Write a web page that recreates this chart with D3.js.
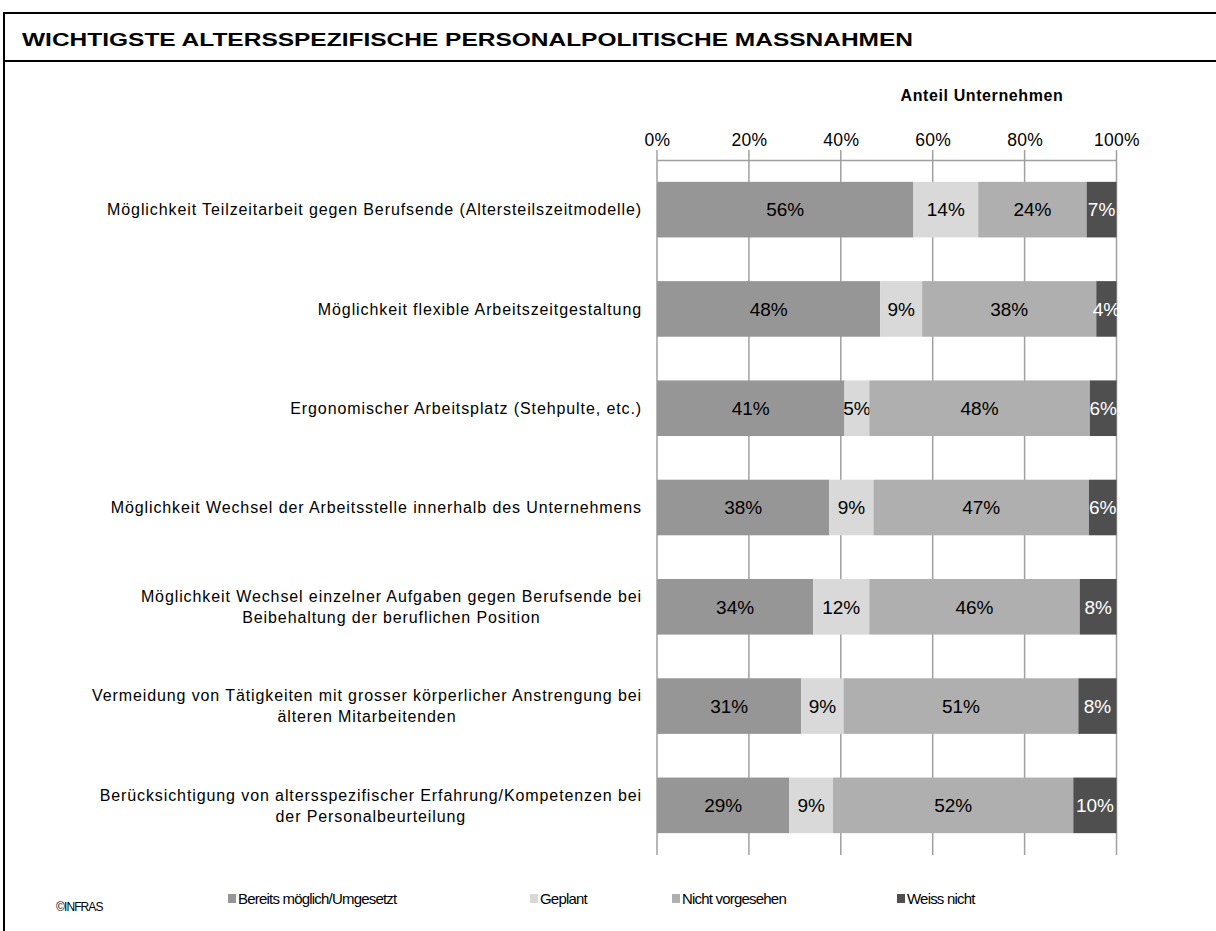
<!DOCTYPE html>
<html>
<head>
<meta charset="utf-8">
<script src="https://cdn.jsdelivr.net/npm/d3@7"></script>
<style>
  body { margin: 0; background: #fff; }
  text { font-family: "Liberation Sans", Arial, sans-serif; }
</style>
</head>
<body>
<div id="chart"></div>
<script>
// categories (top to bottom), lines split as in the original
const categories = [
    ["Möglichkeit Teilzeitarbeit gegen Berufsende (Altersteilszeitmodelle)"],
    ["Möglichkeit flexible Arbeitszeitgestaltung"],
    ["Ergonomischer Arbeitsplatz (Stehpulte, etc.)"],
    ["Möglichkeit Wechsel der Arbeitsstelle innerhalb des Unternehmens"],
    ["Möglichkeit Wechsel einzelner Aufgaben gegen Berufsende bei", "Beibehaltung der beruflichen Position"],
    ["Vermeidung von Tätigkeiten mit grosser körperlicher Anstrengung bei", "älteren Mitarbeitenden"],
    ["Berücksichtigung von altersspezifischer Erfahrung/Kompetenzen bei", "der Personalbeurteilung"]
];
const seriesNames = ["Bereits möglich/Umgesetzt", "Geplant", "Nicht vorgesehen", "Weiss nicht"];
// shares in percent (unrounded estimates), one array per series
const bereits = [55.8, 48.6, 40.8, 37.5, 34.0, 31.4, 28.8];
const geplant = [14.1, 9.1, 5.4, 9.6, 12.2, 9.2, 9.5];
const nichtVorgesehen = [23.6, 37.9, 48.0, 46.9, 45.8, 51.1, 52.3];
const weissNicht = [6.5, 4.4, 5.8, 6.0, 8.0, 8.3, 9.4];
// printed labels
const bereitsLbl = [56, 48, 41, 38, 34, 31, 29];
const geplantLbl = [14, 9, 5, 9, 12, 9, 9];
const nichtLbl = [24, 38, 48, 47, 46, 51, 52];
const weissLbl = [7, 4, 6, 6, 8, 8, 10];
const xTicks = [0, 20, 40, 60, 80, 100];

const colors = ["#969696", "#d9d9d9", "#afafaf", "#4f4f4f"];
const labelColors = ["#000", "#000", "#000", "#fff"];

const W = 1216, H = 931;
const svg = d3.select("#chart").append("svg")
    .attr("width", W)
    .attr("height", H);

// frame
svg.append("line").attr("x1", 3).attr("x2", W).attr("y1", 13).attr("y2", 13)
    .attr("stroke", "#000").attr("stroke-width", 2);
svg.append("line").attr("x1", 3).attr("x2", W).attr("y1", 61).attr("y2", 61)
    .attr("stroke", "#000").attr("stroke-width", 2);
svg.append("line").attr("x1", 4).attr("x2", 4).attr("y1", 12).attr("y2", H)
    .attr("stroke", "#000").attr("stroke-width", 2);

svg.append("text")
    .attr("x", 22).attr("y", 46)
    .attr("textLength", 891)
    .attr("lengthAdjust", "spacingAndGlyphs")
    .style("font-size", "19px")
    .style("font-weight", "bold")
    .text("WICHTIGSTE ALTERSSPEZIFISCHE PERSONALPOLITISCHE MASSNAHMEN");

const x = d3.scaleLinear().domain([0, 100]).range([657, 1116.5]);
const y = d3.scaleBand().domain(d3.range(categories.length)).range([160, 855]).paddingInner(0.44).paddingOuter(0.22);

// gridlines
svg.append("g").selectAll("line").data(xTicks).join("line")
    .attr("x1", d => x(d)).attr("x2", d => x(d))
    .attr("y1", 150).attr("y2", 855)
    .attr("stroke", "#a0a0a0").attr("stroke-width", 1.5);

// top axis
const axis = d3.axisTop(x).tickValues(xTicks).tickFormat(d => d + "%").tickSize(0).tickPadding(14);
const ax = svg.append("g").attr("transform", "translate(0,160)").call(axis);
ax.select(".domain").attr("stroke", "#a0a0a0").attr("stroke-width", 1.5);
ax.selectAll("text").style("font-size", "17.5px").attr("fill", "#000")
    .style("letter-spacing", "0.3px")
    .style("font-family", "'Liberation Sans', Arial, sans-serif");

svg.append("text")
    .attr("x", 982).attr("y", 101)
    .attr("text-anchor", "middle")
    .style("font-size", "16px")
    .style("font-weight", "bold")
    .style("letter-spacing", "0.6px")
    .text("Anteil Unternehmen");

// stacked bars
const values = [bereits, geplant, nichtVorgesehen, weissNicht];
const labels = [bereitsLbl, geplantLbl, nichtLbl, weissLbl];
const rows = categories.map((c, i) => {
    const r = { i };
    seriesNames.forEach((s, k) => { r[s] = values[k][i]; });
    return r;
});
const stack = d3.stack().keys(seriesNames)(rows);

const layers = svg.append("g").selectAll("g").data(stack).join("g")
    .attr("fill", (d, k) => colors[k]);

layers.selectAll("rect").data(d => d).join("rect")
    .attr("x", d => x(d[0]))
    .attr("width", d => x(d[1]) - x(d[0]))
    .attr("y", d => y(d.data.i))
    .attr("height", y.bandwidth());

layers.each(function (layer, k) {
    d3.select(this).selectAll("text").data(layer).join("text")
        .attr("x", d => (x(d[0]) + x(d[1])) / 2)
        .attr("y", d => y(d.data.i) + y.bandwidth() / 2)
        .attr("dy", "0.36em")
        .attr("text-anchor", "middle")
        .attr("fill", labelColors[k])
        .style("font-size", "19px")
        .text(d => labels[k][d.data.i] + "%");
});

// category labels: block right-aligned, lines centered
const catG = svg.append("g");
categories.forEach((lines, i) => {
    const cy = y(i) + y.bandwidth() / 2;
    const lh = 21;
    const t = catG.append("text")
        .attr("text-anchor", "middle")
        .style("font-size", "16px")
        .style("letter-spacing", "0.9px");
    lines.forEach((ln, j) => {
        t.append("tspan")
            .attr("y", cy + (j - (lines.length - 1) / 2) * lh)
            .attr("dy", "0.36em")
            .text(ln);
    });
    const widths = [];
    t.selectAll("tspan").each(function () { widths.push(this.getComputedTextLength()); });
    const cx = 642 - d3.max(widths) / 2;
    t.selectAll("tspan").attr("x", cx);
});

// legend
const legendX = [228, 530, 672, 897];
const lg = svg.append("g").selectAll("g").data(seriesNames).join("g")
    .attr("transform", (d, k) => `translate(${legendX[k]},899)`);
lg.append("rect").attr("x", 0).attr("y", -5).attr("width", 8).attr("height", 9)
    .attr("fill", (d, k) => colors[k]);
lg.append("text").attr("x", 10).attr("dy", "0.36em")
    .style("font-size", "15px")
    .style("letter-spacing", "-0.8px")
    .text(d => d);

svg.append("text")
    .attr("x", 56).attr("y", 911)
    .style("font-size", "12px")
    .style("letter-spacing", "-0.9px")
    .text("©INFRAS");
</script>
</body>
</html>
